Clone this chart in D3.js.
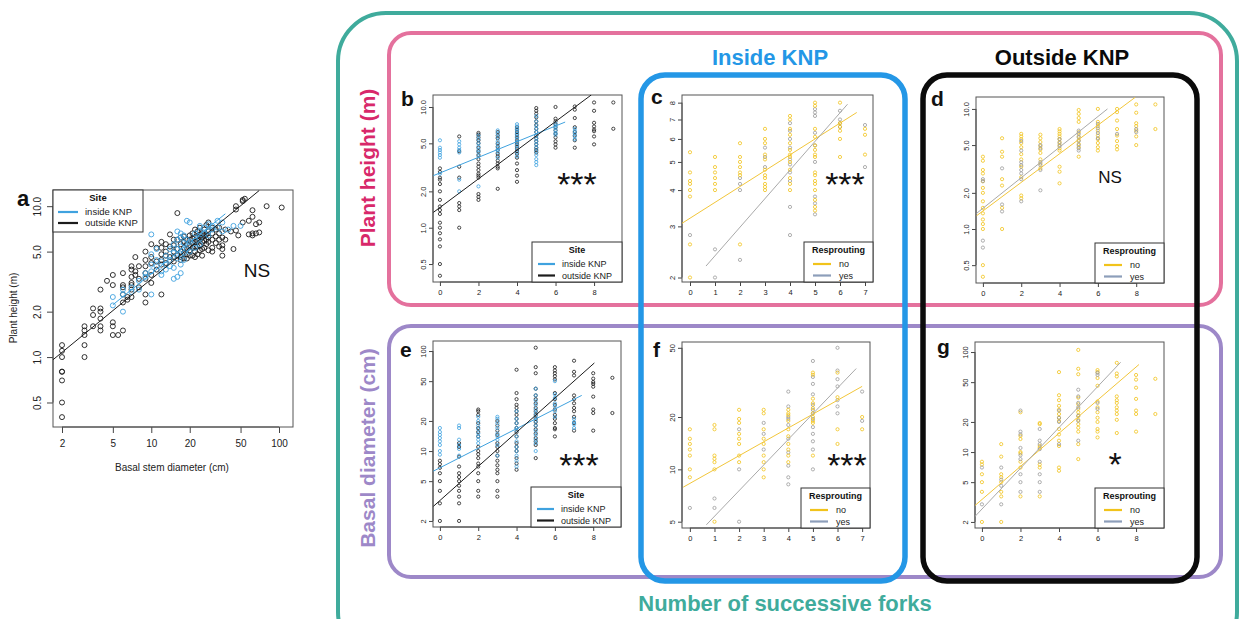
<!DOCTYPE html>
<html>
<head>
<meta charset="utf-8">
<script src="https://cdn.jsdelivr.net/npm/d3@7"></script>
<style>
  body { margin: 0; background: #fff; }
  svg { display: block; }
</style>
</head>
<body>
<svg id="fig" width="1241" height="619"></svg>
<script>
/* ---------------------------------------------------------
   Data
--------------------------------------------------------- */

// panel a: [basal diameter, [plant heights...]]
const aOutside = [
  [2, [1.2, 1.1, 1.0, 0.8, 0.8, 0.7, 0.5, 0.4]],
  [3, [1.6, 1.5, 1.4, 1.2, 1.0]],
  [3.5, [2.1, 1.9, 1.6]],
  [4, [2.8, 2.1, 2.0, 1.8, 1.6, 1.5]],
  [4.5, [3.2]],
  [5, [3.5, 3.0, 1.7, 1.6, 1.4]],
  [5.5, [1.4]],
  [6, [3.6, 3.0, 2.9, 2.6, 2.3, 1.5]],
  [6.5, [2.5, 2.4]],
  [7, [4.0, 3.8, 3.4, 3.1, 3.0, 2.8, 2.5]],
  [7.5, [4.6, 3.7, 3.5]],
  [8, [4.0, 3.3, 2.9]],
  [9, [5.0, 4.4, 4.0, 3.6, 3.3, 2.6, 2.3]],
  [10, [5.6, 4.6, 4.2, 3.5, 3.1]],
  [11, [5.3, 4.3, 3.8]],
  [12, [5.8, 5.3, 4.8, 4.4, 4.1, 2.6]],
  [13, [5.6, 5.0, 4.7, 4.2]],
  [14, [6.5, 5.4, 4.6]],
  [15, [6.0, 5.5, 5.0, 4.6, 4.3]],
  [16, [9.0, 6.0, 5.2, 4.7]],
  [17, [6.2, 5.6, 5.0, 4.6, 4.4]],
  [18, [6.3, 5.8, 5.3, 4.9, 4.5]],
  [19, [6.0, 5.6, 5.2, 4.8, 4.5]],
  [20, [6.4, 6.0, 5.5, 5.1, 4.7]],
  [21, [6.6, 6.1, 5.7, 5.3, 4.7]],
  [22, [7.0, 6.2, 5.8, 5.4, 5.0, 4.6]],
  [23, [6.8, 6.3, 5.9, 5.4, 4.8]],
  [24, [7.2, 6.5, 6.0, 5.5, 5.1]],
  [25, [6.6, 6.2, 5.8, 5.2, 4.7]],
  [26, [7.0, 6.4, 5.9, 5.3]],
  [27, [7.5, 6.5, 6.0, 5.6]],
  [28, [7.8, 6.8, 6.2, 5.8, 5.1]],
  [30, [7.2, 6.6, 6.0, 5.3, 5.0]],
  [32, [7.0, 6.3, 5.7]],
  [34, [7.2, 6.6, 6.0, 5.4]],
  [36, [6.2, 5.5, 5.2, 4.7]],
  [38, [7.0, 6.0]],
  [42, [6.8]],
  [44, [5.2]],
  [46, [10.0, 9.5, 6.9]],
  [48, [6.4]],
  [52, [11.0, 10.8, 7.8]],
  [54, [11.2]],
  [58, [8.0, 6.5]],
  [62, [9.4, 8.5, 6.6, 6.4]],
  [66, [7.6, 6.6]],
  [70, [7.8, 6.7]],
  [80, [10.0]],
  [105, [9.8]]
];
const aInside = [
  [5, [2.5, 2.2]],
  [6, [2.8, 2.6, 2.0]],
  [7, [2.9, 2.7]],
  [8, [3.2, 2.8]],
  [9, [3.6, 3.4]],
  [10, [6.5, 4.8, 4.1, 3.7, 2.6]],
  [11, [5.2, 4.4, 4.0]],
  [12, [4.3, 3.7, 3.5]],
  [13, [4.7, 4.1, 3.8]],
  [14, [5.2, 4.4, 4.0]],
  [15, [5.6, 4.9, 3.9, 3.3]],
  [16, [6.8, 6.0, 5.2, 4.5, 3.4]],
  [17, [6.6, 6.2, 5.4, 4.8, 4.1, 3.6]],
  [18, [6.4, 5.7, 4.9, 4.4]],
  [19, [8.0, 6.0, 5.2]],
  [20, [7.8, 5.8, 5.0]],
  [22, [6.6, 5.9, 5.3]],
  [24, [7.4, 6.8, 6.1, 5.6]],
  [26, [7.2, 6.6]],
  [28, [7.6, 6.8, 6.4]],
  [30, [7.4, 7.0]],
  [33, [8.0, 7.2]],
  [36, [7.8, 6.8]],
  [40, [7.0]],
  [44, [7.4]],
  [50, [7.4]]
];

// panels b-g: index = number of successive forks, values = y
const bInside = [
  [5.3, 4.6, 4.4, 4.2, 4.0, 3.8, 2.8],
  [5.2, 4.9, 4.6, 4.4, 4.2, 2.5, 2.0],
  [5.8, 5.4, 5.0, 4.7, 4.4, 4.2, 3.9, 2.2],
  [6.4, 6.0, 5.6, 5.2, 4.9, 4.6, 4.4, 4.2, 3.8],
  [7.2, 6.9, 6.6, 6.3, 6.0, 5.7, 5.4, 5.1, 4.8, 4.5, 4.2, 3.9],
  [8.4, 7.6, 7.0, 6.6, 6.2, 5.8, 5.5, 5.2, 4.9, 4.6, 4.3, 4.0, 3.7, 3.5, 3.3],
  [7.3, 7.0, 6.7, 6.4, 6.1, 5.9],
  [6.6, 6.3, 6.0, 5.7, 5.4],
  [], []
];
const bOutside = [
  [3.1, 2.9, 2.6, 2.5, 2.3, 2.0, 1.7, 1.5, 1.4, 1.3, 1.1, 1.0, 0.9, 0.8, 0.7, 0.5, 0.4],
  [5.7, 4.3, 3.2, 2.6, 1.6, 1.5, 1.4, 1.0],
  [6.1, 5.9, 5.6, 5.3, 5.0, 4.6, 4.3, 4.0, 3.7, 3.4, 3.2, 3.0, 2.8, 2.7, 2.6, 1.9, 1.8, 1.7],
  [6.2, 5.8, 5.5, 5.0, 4.7, 4.4, 4.1, 3.9, 3.6, 3.4, 3.2, 3.1, 2.1],
  [6.8, 6.5, 6.2, 5.9, 5.6, 5.3, 5.1, 4.9, 4.7, 4.5, 4.3, 4.1, 3.8, 3.4, 3.0, 2.7, 2.4],
  [9.8, 9.3, 8.8, 8.2, 7.6, 7.1, 6.6, 6.2, 5.8, 5.5, 5.2, 4.9, 4.6, 4.4, 4.2],
  [10.0, 8.0, 7.6, 7.2, 6.8, 6.4, 6.0, 5.6, 5.2, 4.9, 4.6],
  [10.1, 9.5, 8.1, 6.8, 6.2, 5.8, 5.3, 4.6],
  [10.9, 9.3, 7.4, 6.9, 6.5, 6.3, 5.7, 4.9],
  [10.9, 6.6]
];
const cNo = [
  [5.4, 4.6, 4.3, 4.2, 4.0, 3.8, 2.6, 2.0],
  [5.2, 4.8, 4.6, 4.4, 4.2, 4.0],
  [5.8, 5.2, 5.0, 4.8, 4.6, 4.5, 2.6],
  [6.5, 6.0, 5.8, 5.3, 5.1, 4.7, 4.5, 4.4, 4.2, 4.1, 4.0],
  [7.2, 7.0, 6.5, 6.2, 5.8, 5.5, 5.3, 5.2, 5.0, 4.7, 4.4, 4.2, 4.0],
  [8.0, 7.8, 6.5, 6.1, 5.7, 5.5, 5.3, 5.2, 4.6, 4.5, 4.3, 4.2, 4.0, 3.7, 3.5, 3.4],
  [8.0, 6.8, 6.6, 6.4, 6.0, 5.2],
  [6.5, 6.2, 5.3]
];
const cYes = [
  [2.8],
  [2.5, 2.0],
  [4.4, 4.2, 4.0, 2.3],
  [5.6, 5.2, 4.8],
  [6.8, 6.4, 6.0, 5.6, 5.1, 4.9, 4.6, 4.3, 3.5, 2.8],
  [7.6, 7.4, 7.2, 6.3, 5.7, 5.0, 3.8, 3.6, 3.3],
  [7.5, 7.0, 6.8, 6.6],
  [6.7, 4.8]
];
const dNo = [
  [4.0, 3.7, 3.1, 2.9, 2.5, 2.2, 2.0, 1.7, 1.5, 1.35, 1.2, 1.1, 1.0, 0.5, 0.4],
  [5.7, 4.4, 4.0, 2.6, 2.3, 1.5, 1.0],
  [6.2, 5.9, 5.6, 5.2, 4.8, 4.2, 3.8, 3.3, 2.7, 1.9, 1.8],
  [6.1, 5.7, 5.3, 4.9, 4.6, 4.3, 3.8, 3.5, 3.2],
  [6.8, 6.5, 6.2, 5.9, 5.6, 5.3, 5.0, 4.7, 4.5, 3.3, 3.0, 2.4],
  [9.8, 9.1, 8.4, 7.8, 6.4, 5.9, 5.5, 5.1, 4.8, 4.0],
  [10.0, 7.8, 7.2, 6.6, 6.0, 5.6, 5.2, 4.8, 4.5],
  [10.0, 9.4, 8.0, 6.8, 6.0, 5.4, 4.9, 4.6],
  [10.9, 9.3, 7.6, 7.2, 6.6, 5.9, 5.0],
  [10.9, 6.8]
];
const dYes = [
  [2.6, 2.5, 0.8, 0.7],
  [3.2, 1.6, 1.4],
  [5.4, 4.5, 3.6, 3.4, 3.1, 2.9, 2.6, 1.7],
  [5.0, 4.7, 3.6, 3.4, 3.1, 2.1],
  [5.6, 5.2, 4.9],
  [6.6, 6.2, 5.8, 5.4, 5.0, 4.7, 4.5],
  [7.5, 6.9, 6.3, 5.7],
  [6.2],
  [6.8, 6.4],
  []
];
const eInside = [
  [17, 15.5, 14.5, 13.5, 12.5, 11.5, 10, 9.2],
  [18, 17, 13, 11.5, 10.5, 9],
  [22, 20, 18, 16.5, 15, 14, 13, 12],
  [22, 21, 19, 17, 15, 14, 13, 11.5, 9],
  [25, 21, 19, 17, 16, 14, 12.5, 11, 10, 9, 8, 7],
  [42, 36, 32, 29, 26, 24, 22, 20, 18, 16, 14.5, 13, 12, 10],
  [50, 37, 34, 30, 28, 25, 22],
  [21, 19.5, 18.5, 17],
  [], []
];
const eOutside = [
  [8, 7.4, 6.8, 6.0, 5.0, 4.0, 3.0, 2.0],
  [12, 11, 8.8, 7, 6, 5.5, 5, 4.5, 4, 3.5, 3.0, 2.0],
  [26, 25, 23, 19, 17, 15.5, 14, 11, 10, 9.3, 8.5, 7.5, 7, 6, 5, 4, 3.5],
  [20, 18, 16, 14.5, 12, 11, 10, 9, 8, 7.2, 6.5, 6, 5, 4, 3.5],
  [65, 38, 33, 29, 27, 25, 23, 21, 19, 17, 15.5, 14, 12, 11, 10, 8.5, 7.5, 6.5],
  [108, 69, 60, 42, 36, 33, 30, 27, 25, 23, 21, 19.5, 18, 16.5, 15, 13.5, 12.5, 11.5, 8.5],
  [69, 64, 60, 56, 52, 38, 33, 29, 26, 23, 21, 19, 17, 16.5, 14],
  [80, 62, 57, 36, 33, 30, 27, 25, 22, 19, 16],
  [60, 53, 49, 47, 44, 35, 26, 24, 16],
  [54, 24]
];
const fNo = [
  [17, 15, 14, 13, 12, 10, 9],
  [18, 17, 12, 11.5, 11, 10, 5],
  [22, 19.5, 18.5, 16, 15, 14, 12, 11],
  [22, 21, 17, 15, 14, 12, 11, 10, 9],
  [22, 21, 20.5, 19, 17, 15.5, 14, 13, 12, 11],
  [36, 35, 25.5, 24, 22.5, 21, 20, 19, 18.5, 12],
  [36, 26, 17, 14],
  [20, 17]
];
const fYes = [
  [6],
  [6.8, 6],
  [17, 10, 5],
  [18.5, 16, 13],
  [28, 23, 20, 19.5, 18, 15, 12.5, 10.5, 9, 8.2],
  [42, 34, 31, 27, 23.5, 22, 21, 19.5, 17.5, 16, 14.5, 13, 10],
  [50, 37, 33, 30, 25, 23, 21],
  [28, 19]
];
const gNo = [
  [8, 7.5, 6, 5, 4, 2],
  [12, 9, 6, 5.6, 5, 4, 3.6, 2],
  [25, 14.5, 13.5, 10, 9.7, 8, 7, 3.6],
  [19.5, 19, 11.5, 11, 7.5, 7, 3.6],
  [63, 37, 33, 29, 26.5, 24, 22, 20.5, 17, 15, 13, 11.5, 7, 6.5],
  [105, 68, 60, 35, 30, 27, 25, 23, 21, 19, 17.5, 16, 12, 8.5],
  [66, 63, 55, 46, 32, 28, 25, 22, 20, 17, 16, 14],
  [78, 61, 57, 36, 33, 31, 28, 26, 24, 21, 15.5],
  [59, 53, 44, 34, 26, 24, 16],
  [54, 24]
];
const gYes = [
  [7, 3],
  [7, 5.3, 4.6, 3],
  [26, 16, 15, 11, 9.3, 8.5, 6, 5, 4],
  [17, 13, 12, 10.7, 8, 6, 5, 4],
  [26, 22, 20, 12],
  [42, 36, 31, 28, 23, 20.5, 13],
  [62, 59, 31, 27],
  [], [], []
];

// fitted lines: [[x start, y start], [x end, y end]]
const aFitInside = [[5, 2.22], [38, 8.9]];
const aFitOutside = [[1.7, 0.96], [70, 12.7]];
const bFitInside = [[-0.34, 2.7], [6.5, 7.5]];
const bFitOutside = [[-0.34, 1.34], [7.86, 12.6]];
const cFitNo = [[-0.33, 3.07], [6.67, 7.4]];
const cFitYes = [[0.64, 2.19], [6.3, 7.9]];
const dFitNo = [[-0.33, 1.29], [7.95, 12.5]];
const dFitYes = [[-0.33, 1.35], [6.5, 10]];
const eFitInside = [[-0.34, 6.3], [7.4, 36]];
const eFitOutside = [[-0.34, 2.8], [8.06, 76]];
const fFitNo = [[-0.27, 7.9], [7, 30]];
const fFitYes = [[0.67, 4.8], [6.76, 38]];
const gFitNo = [[-0.38, 2.9], [8.15, 75]];
const gFitYes = [[-0.38, 2.25], [7.2, 79]];

// ticks
const diamTicksA = [2, 5, 10, 20, 50, 100];
const heightTicks = [0.5, 1, 2, 5, 10];
const heightTicksC = [2, 3, 4, 5, 6, 7, 8];
const diamTicks = [2, 5, 10, 20, 50, 100];
const diamTicksF = [5, 10, 20, 50];
const forkTicks = [0, 2, 4, 6, 8];
const forkTicksIn = [0, 1, 2, 3, 4, 5, 6, 7];

const siteKeys = ["inside KNP", "outside KNP"];
const resproutKeys = ["no", "yes"];

/* ---------------------------------------------------------
   Style
--------------------------------------------------------- */
const FONT = "'Liberation Sans', Arial, Helvetica, sans-serif";
const COL = {
  inside: "#3fa2df", outside: "#1c1c1c",
  no: "#f1c31b", yes: "#9b9b9b",
  noLine: "#f2c63a", yesLine: "#a9a9a9", yesKey: "#8d9eba",
  axis: "#444", box: "#555",
  teal: "#3fab9c", pink: "#e4719d", pinkText: "#d8286a", purple: "#9d88c8",
  blue: "#2497e6", black: "#0b0b0b"
};

const svg = d3.select("#fig");
svg.append("rect").attr("width", 1241).attr("height", 619).attr("fill", "#fff");

/* ---------------------------------------------------------
   Frames around the multi-panel part
--------------------------------------------------------- */
function frame(x0, y0, x1, y1, r, color, w) {
  svg.append("rect")
    .attr("x", x0).attr("y", y0)
    .attr("width", x1 - x0).attr("height", y1 - y0)
    .attr("rx", r).attr("ry", r)
    .attr("fill", "none").attr("stroke", color).attr("stroke-width", w);
}
frame(338, 13, 1237, 660, 48, COL.teal, 4);
frame(389, 33, 1221, 305, 22, COL.pink, 4);
frame(389, 326, 1221, 577, 22, COL.purple, 4);
frame(641, 75, 905, 581, 24, COL.blue, 5.5);
frame(923, 75, 1197, 581, 24, COL.black, 5.5);

function bigText(txt, x, y, color, size, rotate) {
  svg.append("text")
    .attr("transform", `translate(${x},${y})` + (rotate ? " rotate(-90)" : ""))
    .attr("text-anchor", "middle")
    .attr("font-family", FONT).attr("font-weight", "bold")
    .attr("font-size", size).attr("fill", color)
    .text(txt);
}
bigText("Inside KNP", 770, 65, COL.blue, 22);
bigText("Outside KNP", 1062, 65, COL.black, 22);
bigText("Plant height (m)", 375, 168, COL.pinkText, 21, true);
bigText("Basal diameter (cm)", 375, 448, COL.purple, 21, true);
bigText("Number of successive forks", 785, 611, COL.teal, 22);

/* ---------------------------------------------------------
   Generic panel
--------------------------------------------------------- */
function flattenForks(arr) {
  return arr.flatMap((ys, i) => ys.map(v => [i, v]));
}
function flattenGroups(arr) {
  return arr.flatMap(([d, hs]) => hs.map(h => [d, h]));
}

function drawPanel(p) {
  const [x0, y0, x1, y1] = p.box;
  const g = svg.append("g").attr("class", "panel-" + p.id);

  const x = (p.xLog ? d3.scaleLog() : d3.scaleLinear()).domain(p.xDomain).range([x0, x1]);
  const y = d3.scaleLog().domain(p.yDomain).range([y1, y0]);

  g.append("clipPath").attr("id", "clip-" + p.id)
    .append("rect")
    .attr("x", x0).attr("y", y0)
    .attr("width", x1 - x0).attr("height", y1 - y0);

  // x axis, R style (axis line only between outer ticks)
  const gx = g.append("g")
    .attr("transform", `translate(0,${y1})`)
    .call(d3.axisBottom(x).tickValues(p.xTicks).tickFormat(p.xFmt)
      .tickSize(p.tick).tickPadding(p.xPad).tickSizeOuter(0));
  gx.attr("font-family", FONT).attr("font-size", p.font);
  gx.select(".domain").remove();
  gx.append("line")
    .attr("x1", x(p.xTicks[0])).attr("x2", x(p.xTicks[p.xTicks.length - 1]))
    .attr("stroke", COL.axis);
  gx.selectAll(".tick line").attr("stroke", COL.axis);
  gx.selectAll(".tick text").attr("fill", "#222");

  // y axis, labels parallel to the axis
  const gy = g.append("g")
    .attr("transform", `translate(${x0},0)`)
    .call(d3.axisLeft(y).tickValues(p.yTicks).tickFormat(p.yFmt)
      .tickSize(p.tick).tickSizeOuter(0));
  gy.attr("font-family", FONT).attr("font-size", p.font);
  gy.select(".domain").remove();
  gy.append("line")
    .attr("y1", y(p.yTicks[0])).attr("y2", y(p.yTicks[p.yTicks.length - 1]))
    .attr("stroke", COL.axis);
  gy.selectAll(".tick line").attr("stroke", COL.axis);
  gy.selectAll(".tick text")
    .attr("transform", "rotate(-90)")
    .attr("x", 0).attr("y", -p.yLab).attr("dy", null)
    .attr("text-anchor", "middle").attr("fill", "#222");

  // plot box
  g.append("rect")
    .attr("x", x0).attr("y", y0)
    .attr("width", x1 - x0).attr("height", y1 - y0)
    .attr("fill", "none").attr("stroke", COL.box).attr("stroke-width", 1);

  // points
  p.series.forEach(s => {
    g.append("g").selectAll("circle")
      .data(s.pts)
      .enter()
      .append("circle")
      .attr("cx", d => x(d[0]))
      .attr("cy", d => y(d[1]))
      .attr("r", p.r)
      .attr("fill", "none")
      .attr("stroke", s.color)
      .attr("stroke-width", p.sw);
  });

  // fitted lines
  p.fits.forEach(f => {
    g.append("line")
      .attr("clip-path", `url(#clip-${p.id})`)
      .attr("x1", x(f.seg[0][0])).attr("y1", y(f.seg[0][1]))
      .attr("x2", x(f.seg[1][0])).attr("y2", y(f.seg[1][1]))
      .attr("stroke", f.color).attr("stroke-width", f.w || 1);
  });

  // legend
  if (p.legend) {
    const L = p.legend;
    const lx = L.atLeft ? x0 : x1 - L.w;
    const ly = L.atLeft ? y0 : y1 - L.h;
    const lg = g.append("g").attr("font-family", FONT);
    lg.append("rect")
      .attr("x", lx).attr("y", ly).attr("width", L.w).attr("height", L.h)
      .attr("fill", "#fff").attr("stroke", "#333").attr("stroke-width", 1);
    lg.append("text")
      .attr("x", lx + L.w / 2).attr("y", ly + L.titleY)
      .attr("text-anchor", "middle").attr("font-weight", "bold")
      .attr("font-size", L.font).attr("fill", "#111")
      .text(L.title);
    L.items.forEach((it, i) => {
      const yy = ly + L.row0 + i * L.step;
      lg.append("line")
        .attr("x1", lx + L.lineX).attr("x2", lx + L.lineX + L.lineW)
        .attr("y1", yy).attr("y2", yy)
        .attr("stroke", it.color).attr("stroke-width", 2.2);
      lg.append("text")
        .attr("x", lx + L.textX).attr("y", yy + L.font * 0.35)
        .attr("font-size", L.font).attr("fill", "#222")
        .text(it.label);
    });
  }

  // significance
  g.append("text")
    .attr("x", p.sig.x).attr("y", p.sig.y)
    .attr("text-anchor", "middle")
    .attr("font-family", FONT).attr("font-size", p.sig.size)
    .attr("fill", "#111")
    .text(p.sig.text);

  // panel letter
  svg.append("text")
    .attr("x", p.letter.x).attr("y", p.letter.y)
    .attr("font-family", FONT).attr("font-weight", "bold")
    .attr("font-size", p.letter.size).attr("fill", "#111")
    .text(p.letter.text);

  return { x, y };
}

/* ---------------------------------------------------------
   Panels
--------------------------------------------------------- */
const fmt1 = d3.format(".1f");
const fmt0 = d3.format("d");

const smallBase = { xLog: false, tick: 4, xPad: 4, yLab: 7, font: 7.5, r: 1.6, sw: 0.8 };
const siteLegendSmall = {
  title: "Site", w: 90, h: 40, titleY: 11, row0: 22, step: 11.5, font: 9,
  lineX: 6, lineW: 17, textX: 30,
  items: [{ label: siteKeys[0], color: COL.inside }, { label: siteKeys[1], color: COL.outside }]
};
const respLegend = {
  title: "Resprouting", w: 69, h: 40, titleY: 11, row0: 22, step: 11.5, font: 9,
  lineX: 9, lineW: 18, textX: 35,
  items: [{ label: resproutKeys[0], color: COL.no }, { label: resproutKeys[1], color: COL.yesKey }]
};

// a
drawPanel({
  id: "a", box: [53, 190, 293, 427],
  xLog: true, xDomain: [1.7, 128.7], yDomain: [0.344, 12.8],
  xTicks: diamTicksA, xFmt: fmt0, yTicks: heightTicks, yFmt: fmt1,
  tick: 6, xPad: 7, yLab: 12, font: 10, r: 2.5, sw: 0.9,
  series: [
    { pts: flattenGroups(aOutside), color: COL.outside },
    { pts: flattenGroups(aInside), color: COL.inside }
  ],
  fits: [
    { seg: aFitOutside, color: COL.outside },
    { seg: aFitInside, color: COL.inside }
  ],
  legend: {
    title: "Site", atLeft: true, w: 90, h: 42, titleY: 11, row0: 22, step: 11, font: 9.5,
    lineX: 5, lineW: 20, textX: 32,
    items: [{ label: siteKeys[0], color: COL.inside }, { label: siteKeys[1], color: COL.outside }]
  },
  sig: { text: "NS", x: 257, y: 277, size: 19 },
  letter: { text: "a", x: 17, y: 206, size: 22 }
});
svg.append("text").attr("x", 172).attr("y", 471).attr("text-anchor", "middle")
  .attr("font-family", FONT).attr("font-size", 10).attr("fill", "#222")
  .text("Basal stem diameter (cm)");
svg.append("text").attr("transform", "translate(17,308) rotate(-90)").attr("text-anchor", "middle")
  .attr("font-family", FONT).attr("font-size", 10).attr("fill", "#222")
  .text("Plant height (m)");

// b
drawPanel(Object.assign({}, smallBase, {
  id: "b", box: [433, 95, 622, 282],
  xDomain: [-0.36, 9.45], yDomain: [0.355, 12.57],
  xTicks: forkTicks, xFmt: fmt0, yTicks: heightTicks, yFmt: fmt1,
  series: [
    { pts: flattenForks(bOutside), color: COL.outside },
    { pts: flattenForks(bInside), color: COL.inside }
  ],
  fits: [
    { seg: bFitInside, color: COL.inside },
    { seg: bFitOutside, color: COL.outside }
  ],
  legend: siteLegendSmall,
  sig: { text: "***", x: 577, y: 196, size: 34 },
  letter: { text: "b", x: 401, y: 106, size: 21 }
}));

// c
drawPanel(Object.assign({}, smallBase, {
  id: "c", box: [682, 95, 873, 282],
  xDomain: [-0.32, 7.32], yDomain: [1.93, 8.5],
  xTicks: forkTicksIn, xFmt: fmt0, yTicks: heightTicksC, yFmt: fmt0,
  series: [
    { pts: flattenForks(cYes), color: COL.yes },
    { pts: flattenForks(cNo), color: COL.no }
  ],
  fits: [
    { seg: cFitNo, color: COL.noLine },
    { seg: cFitYes, color: COL.yesLine }
  ],
  legend: respLegend,
  sig: { text: "***", x: 845, y: 196, size: 34 },
  letter: { text: "c", x: 651, y: 104, size: 21 }
}));

// d
drawPanel(Object.assign({}, smallBase, {
  id: "d", box: [976, 97, 1164, 283],
  xDomain: [-0.36, 9.45], yDomain: [0.355, 12.57],
  xTicks: forkTicks, xFmt: fmt0, yTicks: heightTicks, yFmt: fmt1,
  series: [
    { pts: flattenForks(dNo), color: COL.no },
    { pts: flattenForks(dYes), color: COL.yes }
  ],
  fits: [
    { seg: dFitNo, color: COL.noLine },
    { seg: dFitYes, color: COL.yesLine }
  ],
  legend: respLegend,
  sig: { text: "NS", x: 1110, y: 183, size: 17 },
  letter: { text: "d", x: 931, y: 106, size: 21 }
}));

// e
drawPanel(Object.assign({}, smallBase, {
  id: "e", box: [433, 341, 621, 527],
  xDomain: [-0.36, 9.45], yDomain: [1.74, 126],
  xTicks: forkTicks, xFmt: fmt0, yTicks: diamTicks, yFmt: fmt0,
  series: [
    { pts: flattenForks(eOutside), color: COL.outside },
    { pts: flattenForks(eInside), color: COL.inside }
  ],
  fits: [
    { seg: eFitInside, color: COL.inside },
    { seg: eFitOutside, color: COL.outside }
  ],
  legend: siteLegendSmall,
  sig: { text: "***", x: 579, y: 477, size: 34 },
  letter: { text: "e", x: 400, y: 357, size: 21 }
}));

// f
drawPanel(Object.assign({}, smallBase, {
  id: "f", box: [682, 342, 870, 528],
  xDomain: [-0.32, 7.32], yDomain: [4.6, 54],
  xTicks: forkTicksIn, xFmt: fmt0, yTicks: diamTicksF, yFmt: fmt0,
  series: [
    { pts: flattenForks(fYes), color: COL.yes },
    { pts: flattenForks(fNo), color: COL.no }
  ],
  fits: [
    { seg: fFitNo, color: COL.noLine },
    { seg: fFitYes, color: COL.yesLine }
  ],
  legend: respLegend,
  sig: { text: "***", x: 847, y: 477, size: 34 },
  letter: { text: "f", x: 653, y: 357, size: 21 }
}));

// g
drawPanel(Object.assign({}, smallBase, {
  id: "g", box: [975, 342, 1164, 528],
  xDomain: [-0.36, 9.45], yDomain: [1.74, 126],
  xTicks: forkTicks, xFmt: fmt0, yTicks: diamTicks, yFmt: fmt0,
  series: [
    { pts: flattenForks(gNo), color: COL.no },
    { pts: flattenForks(gYes), color: COL.yes }
  ],
  fits: [
    { seg: gFitNo, color: COL.noLine },
    { seg: gFitYes, color: COL.yesLine }
  ],
  legend: respLegend,
  sig: { text: "*", x: 1115, y: 476, size: 34 },
  letter: { text: "g", x: 937, y: 354, size: 21 }
}));
</script>
</body>
</html>
